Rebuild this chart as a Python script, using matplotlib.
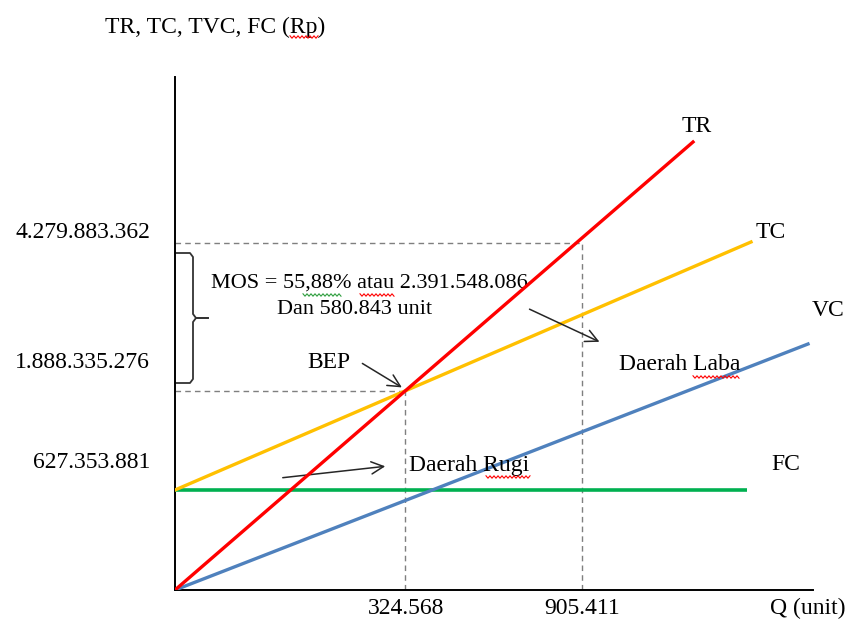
import matplotlib.pyplot as plt
import numpy as np

# Break-even chart (schematic, not to scale).
# Positions are in chart units measured from the origin; the real values are only labels.
plt.rcParams['font.family'] = ['Liberation Serif', 'DejaVu Serif']
FS = 17

# curve end points: (x0, x1), (y0, y1)
tr_x, tr_y = [0, 518], [0, 448]
tc_x, tc_y = [0, 576], [100, 348]
vc_x, vc_y = [0, 633], [0, 246]
fc_x, fc_y = [0, 572], [100, 100]

# values printed on the axes
q_labels = ["324.568", "905.411"]
rp_labels = ["4.279.883.362", "1.888.335.276", "627.353.881"]
rp_label_pos = [357, 227, 127]
sales_pos = (407, 347)   # planned sales point (905.411 unit)

mos_text = "MOS = 55,88% atau 2.391.548.086"
mos_text2 = "Dan 580.843 unit"


def intersect(x1, y1, x2, y2):
    m1 = (y1[1] - y1[0]) / (x1[1] - x1[0])
    m2 = (y2[1] - y2[0]) / (x2[1] - x2[0])
    x = (y2[0] - y1[0]) / (m1 - m2)
    return x, y1[0] + m1 * x


def squiggle(ax, x0, x1, y, color):
    xs = np.arange(x0, x1 + 0.1, 2.0)
    ys = y + np.where(np.arange(len(xs)) % 2 == 0, 1.2, -1.2)
    ax.plot(xs, ys, color=color, lw=0.8, clip_on=False, zorder=5)


bep_x, bep_y = intersect(tr_x, tr_y, tc_x, tc_y)

fig = plt.figure(figsize=(8.51, 6.25), dpi=100)
ax = fig.add_axes([175 / 851, 35 / 625, 638 / 851, 513 / 625])
ax.set_xlim(0, 638)
ax.set_ylim(0, 513)
for s in ['top', 'right']:
    ax.spines[s].set_visible(False)
for s in ['left', 'bottom']:
    ax.spines[s].set_linewidth(1.4)
    ax.spines[s].set_color('black')
ax.set_xticks([])
ax.set_yticks([])

dash = dict(color='#7f7f7f', lw=1.0, ls=(0, (4, 3)), zorder=1)
ax.plot([0, bep_x], [bep_y, bep_y], **dash)
ax.plot([bep_x, bep_x], [0, bep_y], **dash)
ax.plot([0, sales_pos[0]], [sales_pos[1], sales_pos[1]], **dash)
ax.plot([sales_pos[0], sales_pos[0]], [0, sales_pos[1]], **dash)

ax.plot(fc_x, fc_y, color='#00B050', lw=2.6, solid_capstyle='butt', zorder=3)
ax.plot(vc_x, vc_y, color='#4F81BD', lw=2.4, zorder=3)
ax.plot(tc_x, tc_y, color='#FFC000', lw=2.4, zorder=3)
ax.plot(tr_x, tr_y, color='#FF0000', lw=2.4, zorder=4)

# curve names
kw = dict(fontsize=FS, ha='center', va='center', clip_on=False)
ax.text(522, 463, "TR", **kw)
ax.text(596, 357, "TC", **kw)
ax.text(653, 280, "VC", **kw)
ax.text(611, 125, "FC", **kw)

# axis values
for lab, y in zip(rp_labels, rp_label_pos):
    ax.text(-25, y, lab, fontsize=FS, ha='right', va='center', clip_on=False)
ax.text(bep_x + 1, -18, q_labels[0], **kw)
ax.text(sales_pos[0], -18, q_labels[1], **kw)
ax.text(633, -18, "Q (unit)", **kw)
ax.text(-70, 563, "TR, TC, TVC, FC (Rp)", fontsize=FS, ha='left', va='center', clip_on=False)

# margin of safety brace
brace_top = [(1, 337), (15, 337), (18, 333), (18, 276), (21, 272), (33, 272)]
brace_bot = [(33, 272), (21, 272), (18, 268), (18, 211), (15, 207), (1, 207)]
for pts in (brace_top, brace_bot):
    bx, by = zip(*pts)
    ax.plot(bx, by, color='#333333', lw=1.3, clip_on=False)
ax.text(194, 307, mos_text, fontsize=16, ha='center', va='center')
ax.text(180, 280, mos_text2, fontsize=16, ha='center', va='center')

# annotations
arrow = dict(arrowstyle='->', color='#262626', lw=1.1, mutation_scale=22)
ax.text(154, 227, "BEP", **kw)
ax.annotate("", xy=(bep_x - 1, bep_y + 2), xytext=(185, 228), arrowprops=arrow)
ax.text(505, 225, "Daerah Laba", **kw)
ax.annotate("", xy=(427, 247), xytext=(352, 282), arrowprops=arrow)
ax.text(294, 125, "Daerah Rugi", **kw)
ax.annotate("", xy=(213, 124), xytext=(105, 112), arrowprops=arrow)

# spell-check marks under some words
squiggle(ax, 115, 143, 553, '#FF0000')
squiggle(ax, 185, 220, 295, '#FF0000')
squiggle(ax, 128, 166, 295, '#2E9E3E')
squiggle(ax, 311, 355, 113, '#FF0000')
squiggle(ax, 518, 565, 213, '#FF0000')

fig.savefig("out.png", dpi=100)
